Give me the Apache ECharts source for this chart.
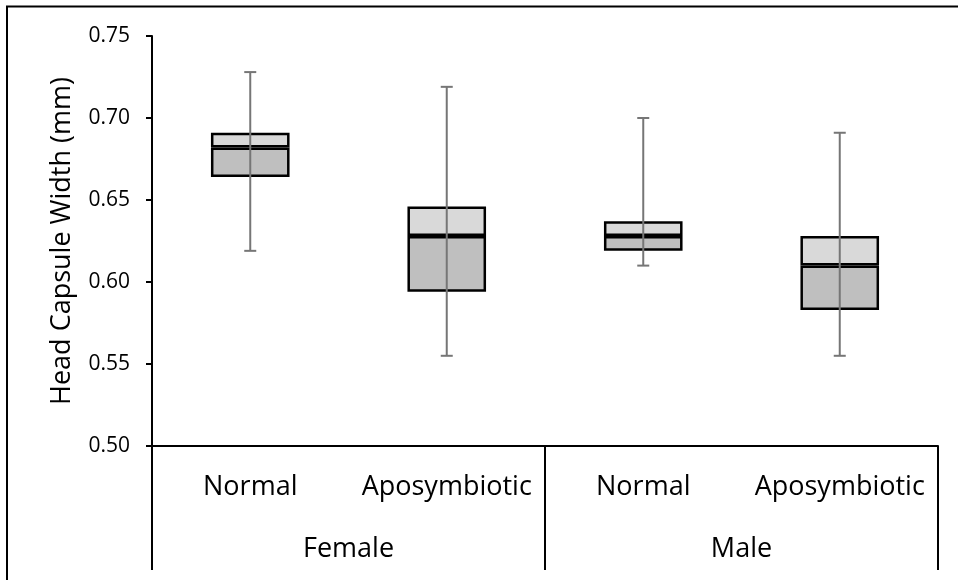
<!DOCTYPE html>
<html>
<head>
<meta charset="utf-8">
<script src="https://cdn.jsdelivr.net/npm/echarts@6/dist/echarts.min.js"></script>
<style>
  html, body { margin: 0; padding: 0; background: #fff; }
  #chart { width: 958px; height: 580px; }
</style>
</head>
<body>
<div id="chart"></div>
<script>
// box plot values
const categories = ['Normal', 'Aposymbiotic', 'Normal', 'Aposymbiotic']
const groups = ['Female', 'Male']
const whiskerLow = [0.619, 0.555, 0.610, 0.555]
const q1 = [0.664, 0.594, 0.619, 0.583]
const median = [0.682, 0.628, 0.628, 0.610]
const q3 = [0.691, 0.646, 0.637, 0.628]
const whiskerHigh = [0.728, 0.719, 0.700, 0.691]
const yTicks = { min: 0.5, max: 0.75, step: 0.05 }

const font = '"Open Sans", "Noto Sans", sans-serif'

const lowerPart = median.map((m, i) => +(m - q1[i]).toFixed(4))
const upperPart = q3.map((q, i) => +(q - median[i]).toFixed(4))
const whiskers = whiskerLow.map((v, i) => [i, v, whiskerHigh[i]])

const chart = echarts.init(document.getElementById('chart'))

const option = {
  animation: false,
  backgroundColor: '#fff',
  grid: { left: 152, right: 20, top: 36, bottom: 134 },
  graphic: [{
    type: 'rect',
    shape: { x: 7, y: 6.5, width: 1000, height: 1000 },
    style: { fill: 'none', stroke: '#000', lineWidth: 2 },
    silent: true
  }],
  xAxis: [
    {
      type: 'category',
      data: categories,
      axisLine: { lineStyle: { color: '#000', width: 2 } },
      axisTick: { show: false },
      axisLabel: { color: '#000', fontSize: 27, fontFamily: font, margin: 28, interval: 0 }
    },
    {
      type: 'category',
      data: groups,
      position: 'bottom',
      axisLine: { show: false },
      axisTick: { show: true, length: 124, lineStyle: { color: '#000', width: 2 } },
      axisLabel: { color: '#000', fontSize: 27, fontFamily: font, margin: 90, interval: 0 }
    }
  ],
  yAxis: {
    type: 'value',
    min: yTicks.min,
    max: yTicks.max,
    interval: yTicks.step,
    name: 'Head Capsule Width (mm)',
    nameLocation: 'middle',
    nameRotate: 90,
    nameGap: 76,
    nameTextStyle: { color: '#000', fontSize: 27, fontFamily: font },
    axisLine: { show: true, lineStyle: { color: '#000', width: 2 } },
    axisTick: { show: true, length: 6, lineStyle: { color: '#000', width: 2 } },
    splitLine: { show: false },
    axisLabel: {
      color: '#000', fontSize: 21, fontFamily: font, margin: 22,
      formatter: v => v.toFixed(2)
    }
  },
  series: [
    {
      type: 'bar',
      stack: 'box',
      barWidth: '40%',
      data: q1,
      itemStyle: { color: 'transparent' },
      silent: true
    },
    {
      type: 'bar',
      stack: 'box',
      barWidth: '40%',
      data: lowerPart,
      itemStyle: { color: '#BFBFBF', borderColor: '#000', borderWidth: 2.5 }
    },
    {
      type: 'bar',
      stack: 'box',
      barWidth: '40%',
      data: upperPart,
      itemStyle: { color: '#D9D9D9', borderColor: '#000', borderWidth: 2.5 }
    },
    {
      type: 'custom',
      data: whiskers,
      z: 10,
      renderItem: function (params, api) {
        const idx = api.value(0)
        const lo = api.coord([idx, api.value(1)])
        const hi = api.coord([idx, api.value(2)])
        const cap = 6
        const style = { stroke: '#767676', lineWidth: 2 }
        return {
          type: 'group',
          children: [
            { type: 'line', shape: { x1: lo[0], y1: lo[1], x2: hi[0], y2: hi[1] }, style },
            { type: 'line', shape: { x1: hi[0] - cap, y1: hi[1], x2: hi[0] + cap, y2: hi[1] }, style },
            { type: 'line', shape: { x1: lo[0] - cap, y1: lo[1], x2: lo[0] + cap, y2: lo[1] }, style }
          ]
        }
      }
    }
  ]
}

chart.setOption(option)
</script>
</body>
</html>
